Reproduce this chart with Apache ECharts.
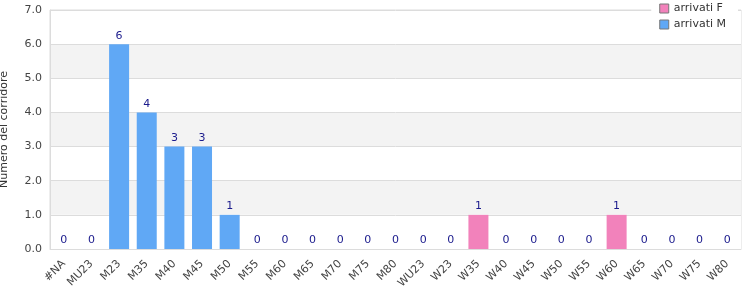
<!DOCTYPE html>
<html><head><meta charset="utf-8">
<script src="https://cdn.jsdelivr.net/npm/echarts@6/dist/echarts.min.js"></script>
<style>html,body{margin:0;padding:0;background:#fff}#c{width:750px;height:300px}</style>
</head><body><div id="c"></div>
<script>
const categories = ['#NA','MU23','M23','M35','M40','M45','M50','M55','M60','M65','M70','M75','M80','WU23','W23','W35','W40','W45','W50','W55','W60','W65','W70','W75','W80'];
const arrivatiM = [0,0,6,4,3,3,1,0,0,0,0,0,0,0,0,0,0,0,0,0,0,0,0,0,0];
const arrivatiF = [0,0,0,0,0,0,0,0,0,0,0,0,0,0,0,1,0,0,0,0,1,0,0,0,0];
const yTicks = [0,1,2,3,4,5,6,7];

const chart = echarts.init(document.getElementById('c'), null, {renderer:'canvas'});
chart.setOption({
  animation:false,
  textStyle:{fontFamily:'DejaVu Sans'},
  grid:{left:50,right:9,top:10,bottom:51,show:true,borderColor:'#dcdcdc',borderWidth:1,backgroundColor:'transparent',containLabel:false,outerBoundsMode:'none'},
  legend:{
    orient:'vertical', right:12, top:0, itemWidth:9, itemHeight:9, itemGap:5, icon:'rect',
    backgroundColor:'#fff', padding:[3,12,3,8],
    textStyle:{fontSize:11,color:'#333'},
    data:[{name:'arrivati F',itemStyle:{borderColor:'#777',borderWidth:1}},{name:'arrivati M',itemStyle:{borderColor:'#777',borderWidth:1}}]
  },
  xAxis:{
    type:'category', data:categories,
    axisLine:{lineStyle:{color:'#dcdcdc'}}, axisTick:{show:false},
    axisLabel:{rotate:45, interval:0, fontSize:11, color:'#444', margin:13}
  },
  yAxis:{
    type:'value', min:yTicks[0], max:yTicks[yTicks.length-1], interval:1,
    name:'Numero del corridore', nameLocation:'middle', nameGap:40, nameRotate:90,
    nameTextStyle:{fontSize:11,color:'#333'},
    axisLine:{show:true,lineStyle:{color:'#dcdcdc'}}, axisTick:{show:false},
    axisLabel:{fontSize:11,color:'#444',formatter:v=>v.toFixed(1),margin:8},
    splitLine:{lineStyle:{color:'#dcdcdc'}},
    splitArea:{show:true,areaStyle:{color:['#ffffff','#f3f3f3']}}
  },
  series:[
    {name:'arrivati M',type:'bar',stack:'a',data:arrivatiM,barWidth:20,itemStyle:{color:'#60a8f5'}},
    {name:'arrivati F',type:'bar',stack:'a',data:arrivatiF,barWidth:20,itemStyle:{color:'#f282bb'},
     label:{show:true,position:'top',distance:3,fontSize:11,color:'#1a1a8c',
       formatter:p=>String(arrivatiM[p.dataIndex]+arrivatiF[p.dataIndex])}}
  ]
});
</script></body></html>
